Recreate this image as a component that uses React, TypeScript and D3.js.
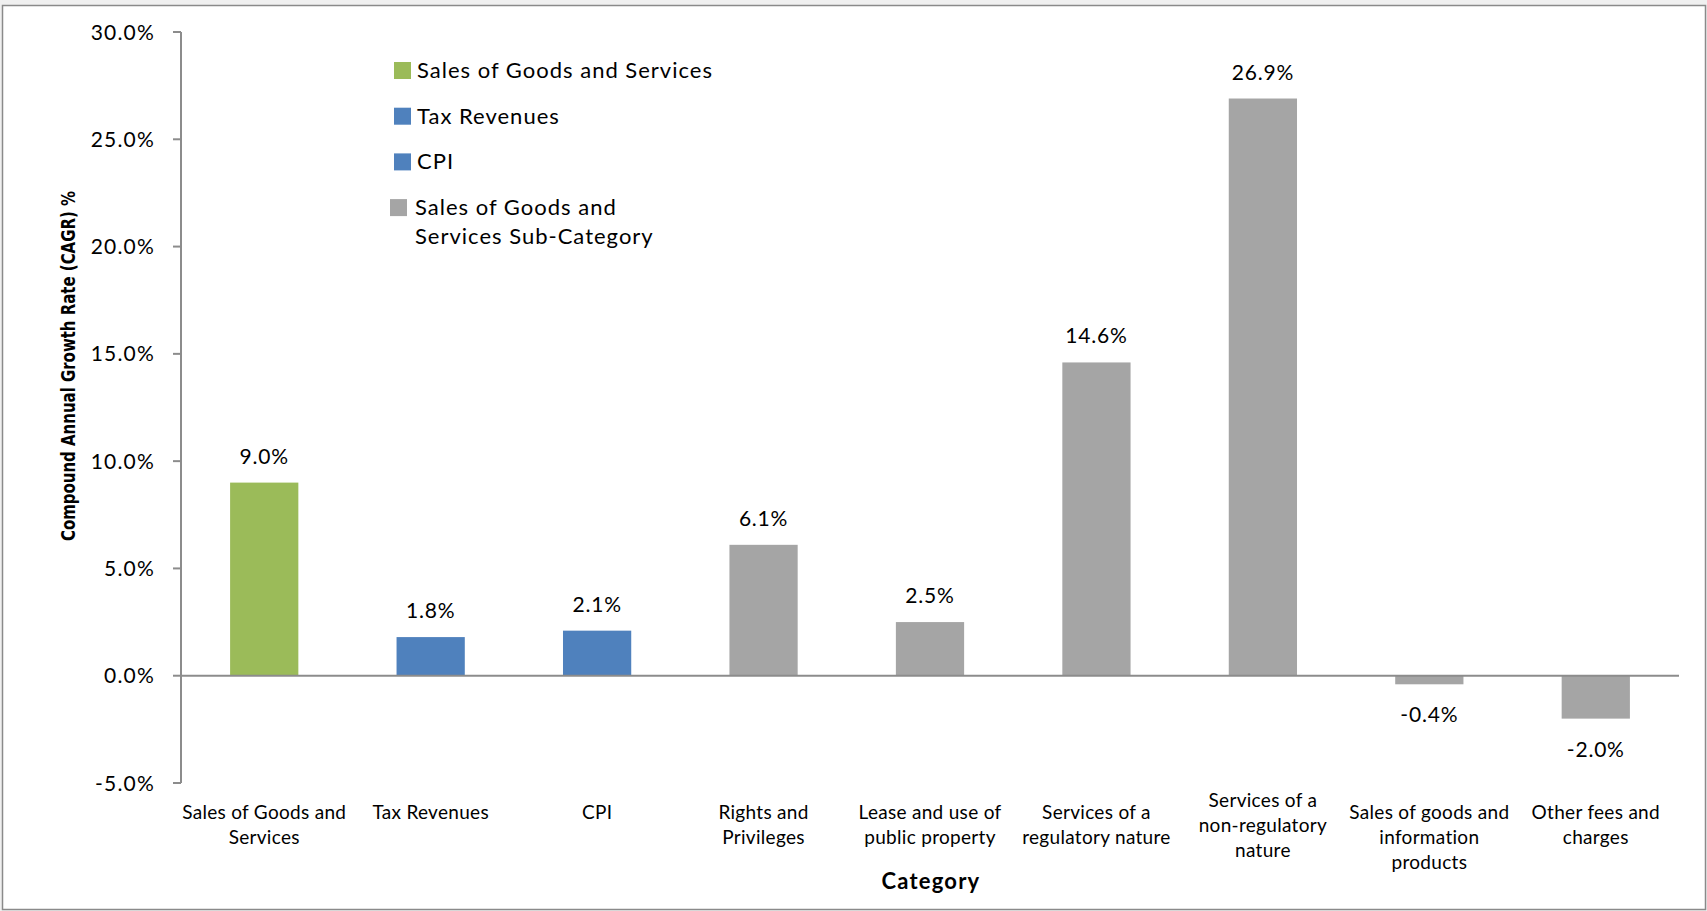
import React from "react";
import * as d3 from "d3";

const categories = [
  "Sales of Goods and Services",
  "Tax Revenues",
  "CPI",
  "Rights and Privileges",
  "Lease and use of public property",
  "Services of a regulatory nature",
  "Services of a non-regulatory nature",
  "Sales of goods and information products",
  "Other fees and charges",
];

const categoryLines = [
  ["Sales of Goods and", "Services"],
  ["Tax Revenues"],
  ["CPI"],
  ["Rights and", "Privileges"],
  ["Lease and use of", "public property"],
  ["Services of a", "regulatory nature"],
  ["Services of a", "non-regulatory", "nature"],
  ["Sales of goods and", "information", "products"],
  ["Other fees and", "charges"],
];

const values = [9.0, 1.8, 2.1, 6.1, 2.5, 14.6, 26.9, -0.4, -2.0];

const seriesOf = ["sales", "tax", "cpi", "sub", "sub", "sub", "sub", "sub", "sub"];

const seriesKeys = ["sales", "tax", "cpi", "sub"];
const seriesLabels = [
  ["Sales of Goods and Services"],
  ["Tax Revenues"],
  ["CPI"],
  ["Sales of Goods and", "Services Sub-Category"],
];
const seriesColors = ["#9BBB59", "#4F81BD", "#4F81BD", "#A5A5A5"];

const yTicks = [-5, 0, 5, 10, 15, 20, 25, 30];

const W = 1707;
const H = 911;
const FONT = "Lato, 'Open Sans', sans-serif";

export default function App() {
  const x = d3
    .scaleBand<string>()
    .domain(categories)
    .range([181, 1679])
    .paddingInner(0.59)
    .paddingOuter(0.295);
  const y = d3.scaleLinear().domain([-5, 30]).range([783, 32]);
  const color = d3.scaleOrdinal<string, string>().domain(seriesKeys).range(seriesColors);
  const fmt = (v: number) => `${v.toFixed(1)}%`;

  return (
    <svg
      width={W}
      height={H}
      style={{ position: "absolute", left: 0, top: 0, fontFamily: FONT }}
    >
      <rect x={0} y={0} width={W} height={H} fill="#f0f0f0" />
      <rect x={2.5} y={5.5} width={1703} height={904} fill="#ffffff" stroke="#8a8a8a" strokeWidth={1.5} />

      {/* bars */}
      {categories.map((c, i) => {
        const v = values[i];
        const y0 = y(0);
        const yv = y(v);
        return (
          <rect
            key={c}
            x={x(c)}
            y={Math.min(y0, yv)}
            width={x.bandwidth()}
            height={Math.abs(yv - y0)}
            fill={color(seriesOf[i])}
          />
        );
      })}

      {/* y axis */}
      <line x1={181} x2={181} y1={y(30)} y2={y(-5)} stroke="#8c8c8c" strokeWidth={2} />
      {yTicks.map((t) => (
        <g key={t}>
          <line x1={173} x2={181} y1={y(t)} y2={y(t)} stroke="#8c8c8c" strokeWidth={2} />
          <text x={155} y={y(t)} dy="0.36em" textAnchor="end" fontSize={21} fill="#000" letterSpacing={1.2}>
            {fmt(t)}
          </text>
        </g>
      ))}

      {/* zero axis */}
      <line x1={181} x2={1679} y1={y(0)} y2={y(0)} stroke="#8c8c8c" strokeWidth={2} />

      {/* data labels */}
      {categories.map((c, i) => {
        const v = values[i];
        const cx = (x(c) ?? 0) + x.bandwidth() / 2;
        const ty = v >= 0 ? y(v) - 19 : y(v) + 38;
        return (
          <text key={c} x={cx} y={ty} textAnchor="middle" fontSize={21} fill="#000" letterSpacing={0.8}>
            {fmt(v)}
          </text>
        );
      })}

      {/* category labels */}
      {categories.map((c, i) => {
        const cx = (x(c) ?? 0) + x.bandwidth() / 2;
        const lines = categoryLines[i];
        const top = c === "Services of a non-regulatory nature" ? 807 : 819;
        return (
          <text key={c} x={cx} y={top} textAnchor="middle" fontSize={19} fill="#000" letterSpacing={0.3}>
            {lines.map((l, j) => (
              <tspan key={j} x={cx} y={top + j * 25}>
                {l}
              </tspan>
            ))}
          </text>
        );
      })}

      {/* axis titles */}
      <text x={931} y={889} textAnchor="middle" fontSize={22} fontWeight="bold" fill="#000" letterSpacing={1.2}>
        Category
      </text>
      <text
        transform={`translate(75, 366) rotate(-90)`}
        textAnchor="middle"
        fontSize={20}
        fontWeight="bold"
        fill="#000"
        textLength={350}
        lengthAdjust="spacingAndGlyphs"
        style={{ fontFamily: "'Liberation Sans Narrow', 'DejaVu Sans Condensed', Lato, sans-serif" }}
      >
        Compound Annual Growth Rate (CAGR) %
      </text>

      {/* legend */}
      {seriesKeys.map((k, i) => {
        const top = 62 + i * 45.7;
        const sx = i === 3 ? 390 : 394;
        const tx = i === 3 ? 415 : 417;
        return (
          <g key={k}>
            <rect x={sx} y={top} width={17} height={17} fill={color(k)} />
            <text fontSize={22} fill="#000" letterSpacing={1}>
              {seriesLabels[i].map((l, j) => (
                <tspan key={j} x={tx} y={top + 16 + j * 29}>
                  {l}
                </tspan>
              ))}
            </text>
          </g>
        );
      })}
    </svg>
  );
}
